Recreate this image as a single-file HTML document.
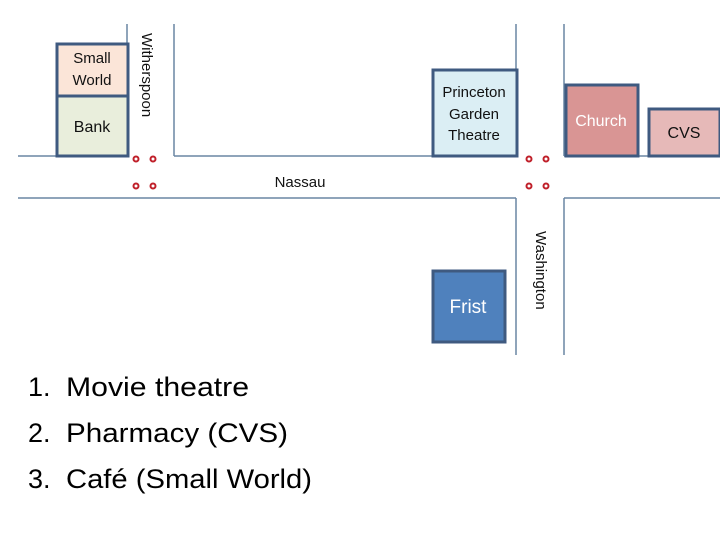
<!DOCTYPE html>
<html><head><meta charset="utf-8"><style>html,body{margin:0;padding:0;background:#fff}svg{display:block}</style></head>
<body>
<svg width="720" height="540" xmlns="http://www.w3.org/2000/svg" font-family="'Liberation Sans', sans-serif">
<g stroke="#6a85a3" stroke-width="1.5" fill="none">
<line x1="18" y1="156" x2="128" y2="156"/>
<line x1="174" y1="156" x2="516" y2="156"/>
<line x1="564" y1="156" x2="720" y2="156"/>
<line x1="18" y1="198" x2="516" y2="198"/>
<line x1="564" y1="198" x2="720" y2="198"/>
<line x1="127" y1="24" x2="127" y2="156"/>
<line x1="174" y1="24" x2="174" y2="156"/>
<line x1="516" y1="24" x2="516" y2="156"/>
<line x1="564" y1="24" x2="564" y2="156"/>
<line x1="516" y1="198" x2="516" y2="355"/>
<line x1="564" y1="198" x2="564" y2="355"/>
</g>
<g stroke="#3f5a80" stroke-width="3">
<rect x="57" y="44" width="71" height="52" fill="#fbe5d8"/>
<rect x="57" y="96" width="71" height="60" fill="#e9eedc"/>
<rect x="433" y="70" width="84" height="86" fill="#dbeef4"/>
<rect x="566" y="85" width="72" height="71" fill="#d99594"/>
<rect x="649" y="109" width="71" height="47" fill="#e6b9b8"/>
<rect x="433" y="271" width="72" height="71" fill="#4f81bd"/>
</g>
<g font-size="15" text-anchor="middle" fill="#111">
<text x="92" y="63">Small</text>
<text x="92" y="85">World</text>
<text x="92" y="132" font-size="16">Bank</text>
<text x="474" y="97">Princeton</text>
<text x="474" y="119">Garden</text>
<text x="474" y="140">Theatre</text>
<text x="601" y="126" fill="#fff" font-size="16">Church</text>
<text x="684" y="138" font-size="16">CVS</text>
<text x="468" y="313" fill="#fff" font-size="19">Frist</text>
<text x="300" y="187" font-size="15">Nassau</text>
</g>
<text transform="translate(142,33) rotate(90)" font-size="15" fill="#111">Witherspoon</text>
<text transform="translate(536,231) rotate(90)" font-size="15" fill="#111">Washington</text>
<g fill="none" stroke="#c0202a" stroke-width="2">
<circle cx="136" cy="159" r="2.5"/><circle cx="153" cy="159" r="2.5"/>
<circle cx="136" cy="186" r="2.5"/><circle cx="153" cy="186" r="2.5"/>
<circle cx="529" cy="159" r="2.5"/><circle cx="546" cy="159" r="2.5"/>
<circle cx="529" cy="186" r="2.5"/><circle cx="546" cy="186" r="2.5"/>
</g>
<g font-size="27" fill="#000">
<text x="28" y="396">1.</text><text x="66" y="396" textLength="183" lengthAdjust="spacingAndGlyphs">Movie theatre</text>
<text x="28" y="442">2.</text><text x="66" y="442" textLength="222" lengthAdjust="spacingAndGlyphs">Pharmacy (CVS)</text>
<text x="28" y="488">3.</text><text x="66" y="488" textLength="246" lengthAdjust="spacingAndGlyphs">Café (Small World)</text>
</g>
</svg>
</body></html>
